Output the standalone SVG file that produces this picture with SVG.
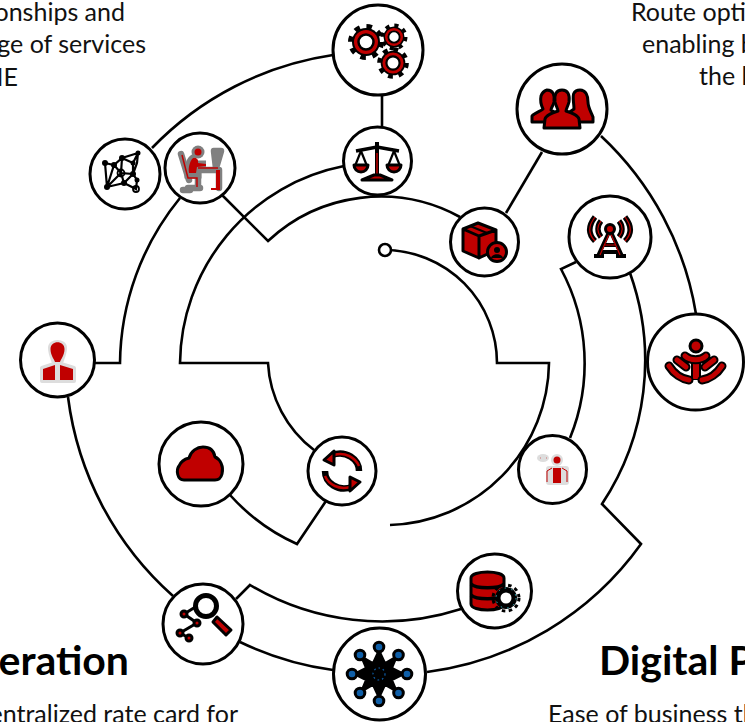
<svg xmlns="http://www.w3.org/2000/svg" xmlns:xlink="http://www.w3.org/1999/xlink" width="745" height="722" viewBox="0 0 745 722">
<style>
.n{fill:#fff;stroke:#000;stroke-width:3}
.c{fill:none;stroke:#000;stroke-width:2.6}
.t{font-family:"Lato","Liberation Sans",sans-serif;font-size:25px;fill:#111}
.h{font-family:"Lato","Liberation Sans",sans-serif;font-size:41px;font-weight:700;fill:#000}
.r{fill:#c00000;stroke:#000;stroke-width:3;stroke-linejoin:round}
.k{fill:none;stroke:#000;stroke-width:9;stroke-linecap:round}
.kr{fill:none;stroke:#c00000;stroke-width:5;stroke-linecap:round}
.h2{fill:#ddd;stroke:#ddd;stroke-width:4;stroke-linejoin:round}
.m{fill:none;stroke:#000;stroke-width:2.2}
.d{fill:#000}
.b{fill:#0f5fa8;stroke:#000;stroke-width:3}
</style>
<defs>
<g id="gear"><circle r="15.500" fill="none" stroke="#000" stroke-width="5" stroke-dasharray="5.500 6.670"/><circle r="14" fill="#000"/><circle r="12" fill="#c00000"/><circle r="7.500" fill="#fff" stroke="#000" stroke-width="2.500"/></g>
</defs>
<g id="texts">
<text class="t" x="125" y="21" text-anchor="end">onships and</text>
<text class="t" x="146" y="53" text-anchor="end">ge of services</text>
<text class="t" x="18" y="86" text-anchor="end">ME</text>
<text class="t" x="631" y="21">Route opti</text>
<text class="t" x="642" y="53">enabling b</text>
<text class="t" x="699" y="85">the l</text>
<text class="h" x="129" y="675" text-anchor="end">eration</text>
<text class="h" x="599" y="675">Digital P</text>
<text class="t" x="238" y="723" text-anchor="end">entralized rate card for</text>
<text class="t" x="548" y="723">Ease of business th</text>
</g>
<g id="connectors">
<path class="c" d="M385,250A113,113 0 0 1 497,363L549,363A164,164 0 0 1 390,525"/>
<path class="c" d="M220,193L268,241A165,165 0 0 1 460,217"/>
<path class="c" d="M344,166A203,203 0 0 0 180,363L268,363A117,117 0 0 0 314,450"/>
<path class="c" d="M326,501L297,544A201,201 0 0 1 230,495"/>
<path class="c" d="M95,363L120,363A265,265 0 0 1 180,198"/>
<path class="c" d="M68,397A320,320 0 0 0 173,596"/>
<path class="c" d="M152,148A315,315 0 0 1 333,55"/>
<path class="c" d="M382,94L382,128"/>
<path class="c" d="M506,213L542,152"/>
<path class="c" d="M601,136A312,312 0 0 1 696,314"/>
<path class="c" d="M576,262L561,269A199,199 0 0 1 570,438"/>
<path class="c" d="M630,273A260,260 0 0 1 602,504L641,544A312,312 0 0 1 427,672"/>
<path class="c" d="M333,670A313,313 0 0 1 240,642"/>
<path class="c" d="M236,599L250,585A257,257 0 0 0 461,609"/>
</g>
<g id="start"><circle cx="385" cy="250" r="6" fill="#fff" stroke="#000" stroke-width="2.600"/></g>
<g id="node-gears"><circle class="n" cx="378" cy="50" r="45"/>
<use xlink:href="#gear" href="#gear" transform="translate(366,42)"/>
<use xlink:href="#gear" href="#gear" transform="translate(394,37) scale(.75)"/>
<use xlink:href="#gear" href="#gear" transform="translate(393,63) scale(.88)"/></g>
<g id="node-scale"><circle class="n" cx="377.500" cy="161" r="34"/>
<path d="M377,142V178" fill="none" stroke="#000" stroke-width="4"/>
<path d="M356,151L377,147L399,151" fill="none" stroke="#000" stroke-width="3.500"/>
<path d="M377,153V176" stroke="#c00000" stroke-width="1.500"/>
<path class="r" d="M374,175H380L392,180H362Z" stroke-width="2.500"/>
<path class="m" d="M361,151L355,166M361,151L367,166M394,151L388,166M394,151L400,166"/>
<path class="r" d="M354,165H368A7,7 0 0 1 354,165ZM387,165H401A7,7 0 0 1 387,165Z"/></g>
<g id="node-network"><circle class="n" cx="125" cy="174" r="35"/>
<path class="m" d="M105,163L114,165L122,158L138,153L133,163L133,174L124,183L107,187L105,163M114,165L121,173L124,183M122,158L121,173L133,174L137,180L136,189L124,183M122,158L133,163M114,165L107,187M138,153L137,163L133,174M121,173L107,187"/>
<circle class="d" cx="105" cy="163" r="3"/><circle class="d" cx="114" cy="165" r="3"/><circle class="d" cx="122" cy="158" r="3"/><circle class="d" cx="138" cy="153" r="2.500"/><circle class="d" cx="133" cy="163" r="2.500"/><circle class="d" cx="133" cy="174" r="3"/><circle class="d" cx="124" cy="183" r="3"/><circle class="d" cx="107" cy="187" r="3"/><circle class="d" cx="137" cy="180" r="2.500"/><circle cx="136" cy="189" r="3" fill="none" stroke="#000" stroke-width="1.800"/><circle cx="121" cy="173" r="3.500" fill="none" stroke="#000" stroke-width="1.800"/></g>
<g id="node-desk"><circle class="n" cx="200" cy="168" r="35"/>
<path d="M181,154L189,180M194,170H219M214,151H221L216,168ZM219,170V188M198,170V187M188,188H200M183,190H190" fill="none" stroke="#808080" stroke-width="6.500" stroke-linecap="round" stroke-linejoin="round"/>
<path d="M195,158C189,160 189,170 189,174H197V165H206" fill="none" stroke="#808080" stroke-width="9"/>
<circle cx="198" cy="152" r="6.500" fill="#808080"/><circle cx="198" cy="152" r="3.500" fill="#c00000"/>
<path d="M192,159C195,156 199,159 198,163L206,164V166L197,167L196,173H189C188,167 190,162 192,159Z" fill="#c00000"/>
<path d="M182,155L188,178H197V187M198,168H218" fill="none" stroke="#c00000" stroke-width="1.500"/>
<path d="M216,170H220V190H211V188H216Z" fill="#c00000"/></g>
<g id="node-people"><circle class="n" cx="562" cy="109" r="45"/>
<path class="r" d="M547,90C553,90 555,95 554,102C553,106 551,108 551,110L560,116V122H532V116C534,113 541,111 543,109C541,105 540,101 541,96C542,93 544,91 547,90Z"/>
<path class="r" d="M580,90C586,90 588,96 588,102C588,107 590,110 593,117L593,122H564V116L574,109C574,103 572,96 574,93C575,91 578,90 580,90Z"/>
<path class="r" d="M562,90C568,90 570,95 569,102C568,106 566,109 566,111C572,113 578,115 579,119L580,128H544L545,119C546,115 552,113 558,111C558,109 556,106 555,102C554,95 556,90 562,90Z"/></g>
<g id="node-box"><circle class="n" cx="484.500" cy="242" r="34"/>
<path class="r" d="M463,229L478,223L496,230L479,236ZM463,229L479,236V258L463,251ZM479,236L496,230V250L479,258Z"/>
<path d="M470,226L487,233" stroke="#000" stroke-width="2"/>
<circle class="r" cx="497" cy="252" r="9.500"/><circle cx="497" cy="250" r="3" fill="#000"/><path d="M491,258C492,253 502,253 503,258Z" fill="#000"/></g>
<g id="node-antenna"><circle class="n" cx="610" cy="237" r="41"/>
<path d="M595,217C588,226 588,234 595,241M601,221C597,226 597,232 601,237M625,217C632,226 632,234 625,241M619,221C623,226 623,232 619,237" fill="none" stroke="#000" stroke-width="5.500"/>
<path d="M595,217C588,226 588,234 595,241M625,217C632,226 632,234 625,241M601,221C597,226 597,232 601,237M619,221C623,226 623,232 619,237" fill="none" stroke="#c00000" stroke-width="1.200"/>
<path d="M610,230L598,256M610,230L622,256M604,245H616M601,252H619M594,256H604M616,256H626" fill="none" stroke="#000" stroke-width="4"/>
<path d="M610,232L600,255M610,232L620,255M605,245H615" fill="none" stroke="#c00000" stroke-width="1.200"/>
<circle class="r" cx="610" cy="229" r="4.500"/></g>
<g id="node-wifi"><circle class="n" cx="695.500" cy="362" r="48"/>
<circle class="r" cx="696" cy="346" r="6"/>
<path d="M696,362V380" stroke="#000" stroke-width="10"/><path d="M696,360V379" stroke="#c00000" stroke-width="6"/>
<path class="k" d="M685,356C690,361 701,361 706,356M669,366C674,374 682,379 689,380M722,366C717,374 709,379 702,380M677,360L686,367M714,360L705,367"/>
<path class="kr" d="M685,356C690,361 701,361 706,356M669,366C674,374 682,379 689,380M722,366C717,374 709,379 702,380M677,360L686,367M714,360L705,367"/></g>
<g id="node-speaker"><circle class="n" cx="552.500" cy="469.500" r="34"/>
<ellipse cx="543" cy="458" rx="6" ry="4" fill="#ddd"/><circle cx="557" cy="460" r="6" fill="#ddd"/><rect x="546" y="466" width="23" height="19" rx="3" fill="#ddd"/>
<circle cx="557" cy="460" r="3.500" fill="#c00000"/><rect x="553" y="468" width="8" height="15" fill="#c00000"/><path d="M547,482V471L552,468M567,482V471L562,468" fill="none" stroke="#c00000" stroke-width="1"/>
<path d="M540,458h.5M546,458h.5" stroke="#c00000"/></g>
<g id="node-cloud"><circle class="n" cx="201" cy="464" r="42"/>
<path class="r" d="M184,480C177,480 176,470 179,466C181,461 185,459 189,458C191,451 197,447 203,447C210,447 214,451 215,457C220,459 224,466 222,474C221,478 219,480 215,480Z"/></g>
<g id="node-sync"><circle class="n" cx="342" cy="471" r="34"/>
<path d="M359,471C359,459 346,450 332,455M325,471C325,483 338,492 352,487" fill="none" stroke="#000" stroke-width="6.500"/>
<path d="M359,466C355,457 345,452 334,455M325,476C329,485 339,490 350,487" fill="none" stroke="#c00000" stroke-width="2.500"/>
<path class="r" d="M324,460L334,451V465Z" stroke-width="2"/><path class="r" d="M360,482L350,491V477Z" stroke-width="2"/></g>
<g id="node-search"><circle class="n" cx="203" cy="624" r="40"/>
<circle cx="206" cy="606" r="10.500" fill="#fff" stroke="#000" stroke-width="5"/>
<path class="r" d="M217,617L231,630L226,635L213,622Z" stroke-width="2.500"/>
<path d="M197,606L184,614L197,623L180,633L189,638" fill="none" stroke="#000" stroke-width="3"/>
<circle class="r" cx="184" cy="614" r="3"/><circle class="r" cx="197" cy="623" r="3"/><circle class="r" cx="180" cy="633" r="3"/><circle class="r" cx="189" cy="638" r="3"/></g>
<g id="node-star"><circle class="n" cx="379.500" cy="674" r="46"/>
<path d="M379,650L385,663L397,656L392,668L404,674L392,680L397,692L385,685L379,698L373,685L361,692L366,680L354,674L366,668L361,656L373,663Z" fill="#000" stroke="#000" stroke-width="2" stroke-linejoin="round"/>
<circle cx="379" cy="674" r="6" fill="none" stroke="#0f5fa8" stroke-width="1.200" stroke-dasharray="1.500 3"/>
<path d="M379,647V701M352,674H407M360,655L398,693M398,655L360,693" stroke="#000" stroke-width="2"/>
<circle cx="379" cy="674" r="6" fill="none" stroke="#0f5fa8" stroke-width="1.200" stroke-dasharray="1.500 3"/>
<circle class="b" cx="379" cy="647" r="4.800"/><circle class="b" cx="398.500" cy="655" r="4.800"/><circle class="b" cx="407" cy="674" r="4.800"/><circle class="b" cx="398.500" cy="693" r="4.800"/><circle class="b" cx="379" cy="701" r="4.800"/><circle class="b" cx="360" cy="693" r="4.800"/><circle class="b" cx="352" cy="674" r="4.800"/><circle class="b" cx="360" cy="655" r="4.800"/></g>
<g id="node-db"><circle class="n" cx="494.500" cy="591" r="37"/>
<path class="r" d="M471,578C471,570 504,570 504,578V604C504,612 471,612 471,604Z"/>
<path d="M471,584C476,589 499,589 504,584M471,595C476,600 499,600 504,595" fill="none" stroke="#000" stroke-width="3.500"/>
<circle cx="506" cy="598" r="11" fill="#000"/><circle cx="506" cy="598" r="13" fill="none" stroke="#000" stroke-width="3" stroke-dasharray="3.500 3.500"/><circle cx="506" cy="598" r="5.500" fill="#fff"/>
<circle cx="506" cy="598" r="10" fill="none" stroke="#2fb6c4" stroke-width="1" stroke-dasharray="1.500 5"/></g>
<g id="node-person"><circle class="n" cx="57.500" cy="360" r="37"/>
<path class="h2" d="M50,348C50,340 65,340 65,348C65,355 61,361 61,364L74,368V381H42V368L54,364C54,361 50,355 50,348Z"/>
<path d="M50.500,349C50.500,340 64.500,340 64.500,349C64.500,355 61,359 60,362H55C54,359 50.500,355 50.500,349Z" fill="#c00000"/>
<path d="M43,369L55,365V380H43ZM60,365L73,369V380H60Z" fill="#c00000"/></g>
</svg>
